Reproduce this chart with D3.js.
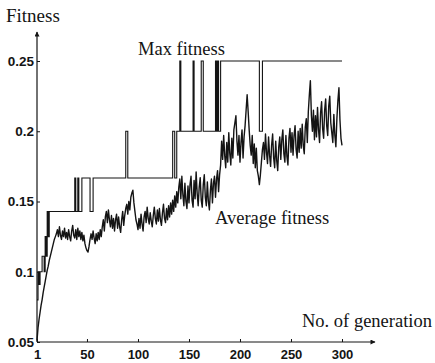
<!DOCTYPE html>
<html>
<head>
<meta charset="utf-8">
<script src="https://cdn.jsdelivr.net/npm/d3@7/dist/d3.min.js"></script>
<style>
  html, body { margin: 0; padding: 0; background: #fff; }
  svg { display: block; }
</style>
</head>
<body>
<svg id="chart" width="435" height="363"></svg>
<script>
// ---- data ----
const xTicks = [1, 50, 100, 150, 200, 250, 300];
const yTicks = [0.05, 0.1, 0.15, 0.2, 0.25];

// Max fitness: step changes [generation, value]
const maxSteps = [
  [1, 0.08], [2, 0.1], [3, 0.091], [4, 0.1], [6, 0.111], [8, 0.1], [9, 0.125],
  [10, 0.111], [11, 0.1429], [12, 0.125], [13, 0.1429],
  [38, 0.1667], [39, 0.1429], [41, 0.1667], [42, 0.1429], [45, 0.1667],
  [53, 0.1429], [56, 0.1667],
  [88, 0.2], [90, 0.1667],
  [134, 0.2], [136, 0.1667], [138, 0.2], [141, 0.25], [142, 0.2],
  [154, 0.25], [155, 0.2], [162, 0.25], [164, 0.2],
  [176, 0.25], [177, 0.2], [178, 0.25], [179, 0.2], [181, 0.25],
  [219, 0.2], [222, 0.25], [300, 0.25]
];

// Average fitness, generation 1..300
const avgValues = [
  0.051, 0.060, 0.066, 0.071, 0.076, 0.080, 0.085, 0.089, 0.093, 0.097,
  0.101, 0.104, 0.108, 0.111, 0.114, 0.117, 0.120, 0.123, 0.125, 0.127,
  0.130, 0.125, 0.132, 0.126, 0.123, 0.129, 0.125, 0.131, 0.124, 0.128,
  0.123, 0.130, 0.125, 0.122, 0.129, 0.133, 0.126, 0.124, 0.130, 0.123,
  0.131, 0.125, 0.129, 0.123, 0.128, 0.122, 0.126, 0.120, 0.117, 0.115,
  0.114, 0.118, 0.123, 0.127, 0.123, 0.129, 0.124, 0.120, 0.127, 0.122,
  0.128, 0.123, 0.130, 0.125, 0.132, 0.137, 0.129, 0.139, 0.143, 0.135,
  0.144, 0.137, 0.132, 0.140, 0.131, 0.138, 0.129, 0.137, 0.141, 0.131,
  0.139, 0.132, 0.128, 0.137, 0.143, 0.133, 0.140, 0.145, 0.148, 0.141,
  0.150, 0.144, 0.153, 0.156, 0.158, 0.149, 0.143, 0.137, 0.134, 0.130,
  0.138, 0.131, 0.141, 0.134, 0.129, 0.139, 0.143, 0.135, 0.146, 0.138,
  0.134, 0.142, 0.136, 0.132, 0.140, 0.146, 0.138, 0.134, 0.144, 0.136,
  0.145, 0.137, 0.133, 0.142, 0.148, 0.138, 0.135, 0.145, 0.137, 0.147,
  0.139, 0.149, 0.141, 0.151, 0.143, 0.154, 0.146, 0.157, 0.149, 0.160,
  0.166, 0.152, 0.168, 0.155, 0.147, 0.163, 0.150, 0.145, 0.161, 0.149,
  0.162, 0.168, 0.151, 0.146, 0.165, 0.152, 0.171, 0.156, 0.147, 0.160,
  0.167, 0.151, 0.146, 0.162, 0.169, 0.153, 0.147, 0.164, 0.150, 0.144,
  0.158, 0.166, 0.149, 0.163, 0.168, 0.153, 0.166, 0.172, 0.157, 0.169,
  0.176, 0.193, 0.180, 0.197, 0.183, 0.174, 0.192, 0.178, 0.199, 0.184,
  0.176, 0.195, 0.181, 0.201, 0.206, 0.211, 0.193, 0.183, 0.197, 0.178,
  0.192, 0.201, 0.181, 0.196, 0.204, 0.215, 0.226, 0.214, 0.201, 0.190,
  0.183, 0.197, 0.177, 0.191, 0.174, 0.188, 0.172, 0.168, 0.162, 0.169,
  0.178, 0.187, 0.192, 0.180, 0.198, 0.185, 0.177, 0.196, 0.183, 0.175,
  0.190, 0.198, 0.181, 0.174, 0.193, 0.179, 0.172, 0.189, 0.196, 0.180,
  0.194, 0.201, 0.184, 0.178, 0.197, 0.182, 0.176, 0.195, 0.202, 0.185,
  0.199, 0.183, 0.197, 0.204, 0.187, 0.181, 0.200, 0.185, 0.202, 0.188,
  0.205, 0.190, 0.184, 0.203, 0.209, 0.192, 0.214, 0.226, 0.236, 0.211,
  0.200, 0.215, 0.194, 0.211, 0.196, 0.217, 0.201, 0.192, 0.213, 0.221,
  0.202, 0.195, 0.215, 0.223, 0.204, 0.197, 0.218, 0.225, 0.206, 0.199,
  0.192, 0.212, 0.197, 0.189, 0.209, 0.222, 0.231, 0.208, 0.195, 0.190
];

// ---- chart ----
const svg = d3.select("#chart");
const ink = "#141414";

const x = d3.scaleLinear().domain([1, 300]).range([37, 342]);
const y = d3.scaleLinear().domain([0.05, 0.25]).range([342, 61]);

// axes lines with arrows
const defs = svg.append("defs");
defs.append("marker").attr("id", "arr").attr("viewBox", "0 0 10 10")
  .attr("refX", 9).attr("refY", 5).attr("markerWidth", 7).attr("markerHeight", 5)
  .attr("orient", "auto").attr("markerUnits", "userSpaceOnUse")
  .append("path").attr("d", "M0,0 L10,5 L0,10 z").attr("fill", ink);

svg.append("line").attr("x1", x(1)).attr("y1", y(0.05)).attr("x2", 375).attr("y2", y(0.05))
  .attr("stroke", ink).attr("stroke-width", 1).attr("marker-end", "url(#arr)");
svg.append("line").attr("x1", x(1)).attr("y1", y(0.05)).attr("x2", x(1)).attr("y2", 32)
  .attr("stroke", ink).attr("stroke-width", 1.2).attr("marker-end", "url(#arr)");

const xAxis = d3.axisBottom(x).tickValues(xTicks).tickSizeInner(-3).tickSizeOuter(0)
  .tickPadding(8).tickFormat(d => String(d));
const gx = svg.append("g").attr("transform", `translate(0,${y(0.05)})`).call(xAxis);
gx.select(".domain").remove();
gx.selectAll(".tick line").attr("stroke", ink);
gx.selectAll(".tick text").attr("fill", ink)
  .style("font-family", "'Liberation Sans', Arial, sans-serif")
  .style("font-weight", "bold").style("font-size", "13px");

const yAxis = d3.axisLeft(y).tickValues(yTicks).tickSizeInner(-3).tickSizeOuter(0)
  .tickPadding(3).tickFormat(d => String(d));
const gy = svg.append("g").attr("transform", `translate(${x(1)},0)`).call(yAxis);
gy.select(".domain").remove();
gy.selectAll(".tick line").attr("stroke", ink);
gy.selectAll(".tick text").attr("fill", ink)
  .style("font-family", "'Liberation Sans', Arial, sans-serif")
  .style("font-weight", "bold").style("font-size", "13.5px");

// max fitness (step)
const stepLine = d3.line().x(d => x(d[0])).y(d => y(d[1])).curve(d3.curveStepAfter);
svg.append("path").datum(maxSteps).attr("d", stepLine)
  .attr("fill", "none").attr("stroke", ink).attr("stroke-width", 1.1);

// average fitness
const avgLine = d3.line().x((d, i) => x(i + 1)).y(d => y(d));
svg.append("path").datum(avgValues).attr("d", avgLine)
  .attr("fill", "none").attr("stroke", ink).attr("stroke-width", 1.4)
  .attr("stroke-linejoin", "round");

// labels
const serif = "'Liberation Serif', 'Times New Roman', serif";
svg.append("text").attr("x", 6).attr("y", 22).text("Fitness")
  .style("font-family", serif).style("font-size", "19px").attr("fill", ink);
svg.append("text").attr("x", 138).attr("y", 55).text("Max fitness")
  .style("font-family", serif).style("font-size", "18.5px").attr("fill", ink);
svg.append("text").attr("x", 215).attr("y", 224).text("Average fitness")
  .style("font-family", serif).style("font-size", "18.5px").attr("fill", ink);
svg.append("text").attr("x", 302).attr("y", 327).text("No. of generation")
  .style("font-family", serif).style("font-size", "18.5px").attr("fill", ink);
</script>
</body>
</html>
